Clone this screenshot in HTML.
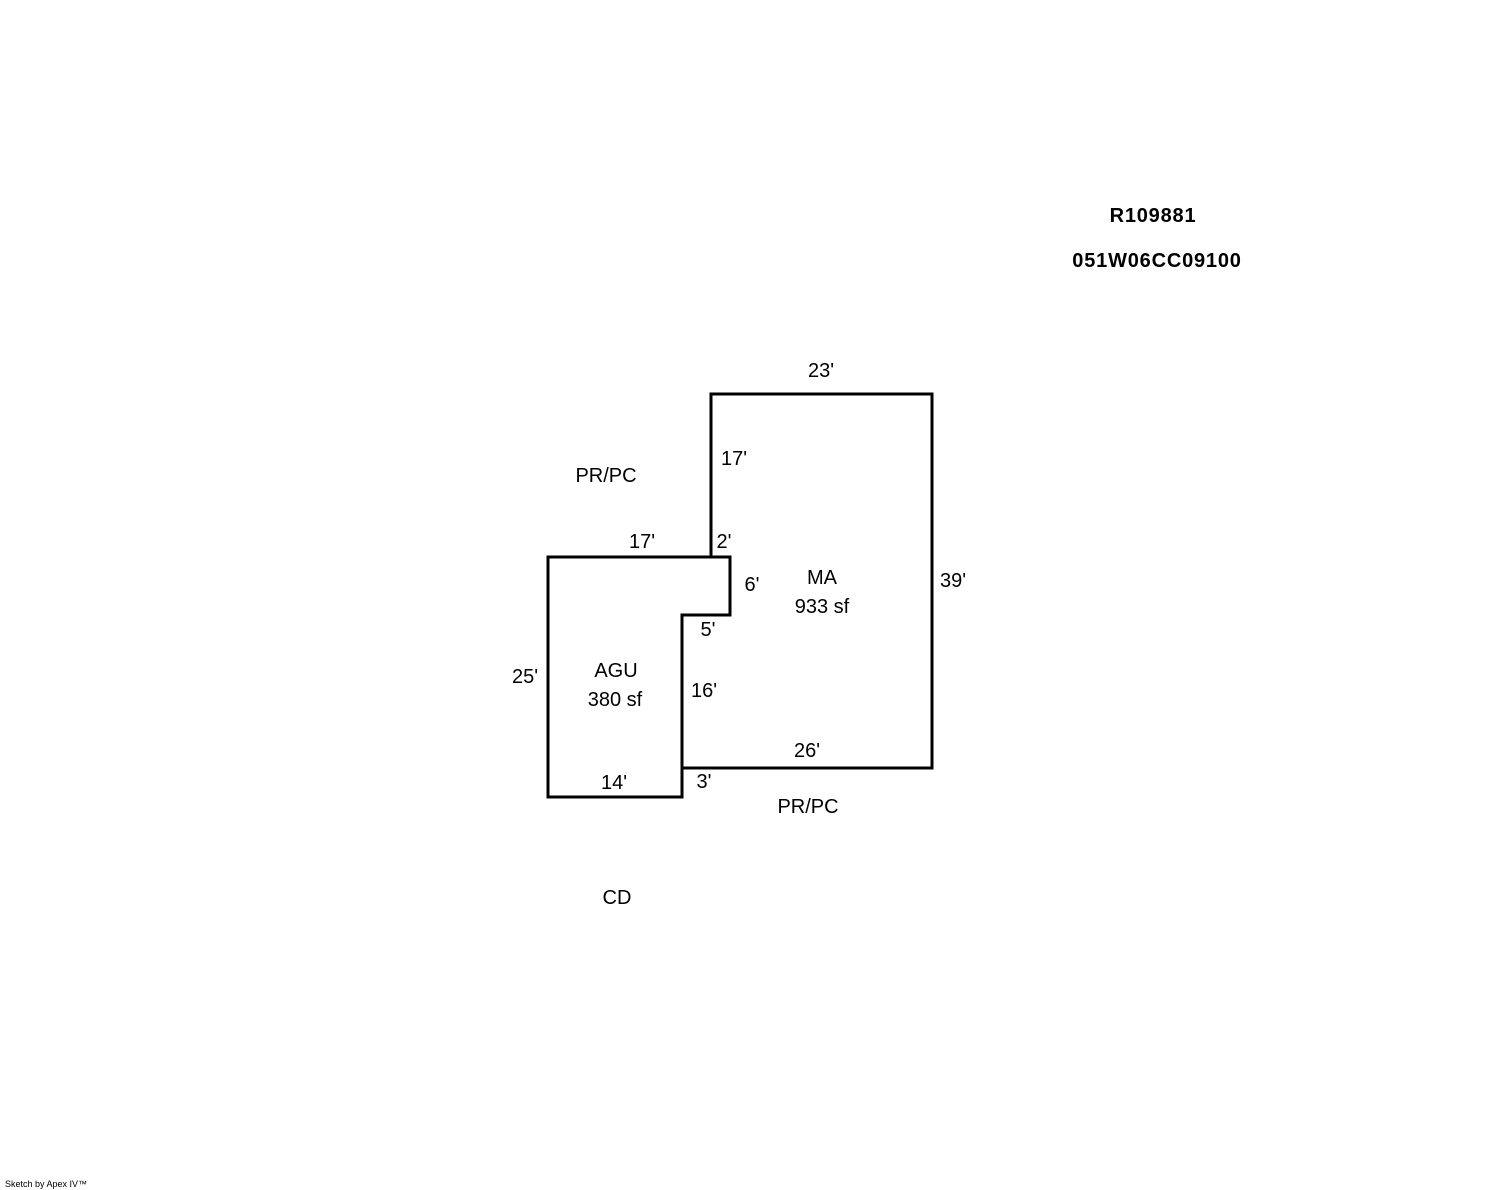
<!DOCTYPE html>
<html><head><meta charset="utf-8"><style>
html,body{margin:0;padding:0;background:#fff;}
svg{display:block;}
text{font-family:"Liberation Sans",Arial,sans-serif;font-size:20px;fill:#000;}
.b{font-weight:bold;letter-spacing:0.8px;}
</style></head><body>
<svg width="1488" height="1190" viewBox="0 0 1488 1190" xmlns="http://www.w3.org/2000/svg">
<g fill="none" stroke="#000" stroke-width="3" stroke-linejoin="miter">
<polyline points="711,557 711,394 932,394 932,768 682,768"/>
<polygon points="548,557 730,557 730,615 682,615 682,797 548,797"/>
</g>
<text class="b" x="1153" y="222" text-anchor="middle">R109881</text>
<text class="b" x="1157" y="267" text-anchor="middle">051W06CC09100</text>
<text x="821" y="377" text-anchor="middle">23'</text>
<text x="734" y="465" text-anchor="middle">17'</text>
<text x="606" y="482" text-anchor="middle">PR/PC</text>
<text x="642" y="548" text-anchor="middle">17'</text>
<text x="724" y="548" text-anchor="middle">2'</text>
<text x="752" y="591" text-anchor="middle">6'</text>
<text x="822" y="584" text-anchor="middle">MA</text>
<text x="822" y="613" text-anchor="middle">933 sf</text>
<text x="953" y="587" text-anchor="middle">39'</text>
<text x="708" y="636" text-anchor="middle">5'</text>
<text x="525" y="683" text-anchor="middle">25'</text>
<text x="616" y="677" text-anchor="middle">AGU</text>
<text x="615" y="706" text-anchor="middle">380 sf</text>
<text x="704" y="697" text-anchor="middle">16'</text>
<text x="807" y="757" text-anchor="middle">26'</text>
<text x="614" y="789" text-anchor="middle">14'</text>
<text x="704" y="788" text-anchor="middle">3'</text>
<text x="808" y="813" text-anchor="middle">PR/PC</text>
<text x="617" y="904" text-anchor="middle">CD</text>
<text x="5" y="1187" style="font-size:9px">Sketch by Apex IV™</text>
</svg>
</body></html>
